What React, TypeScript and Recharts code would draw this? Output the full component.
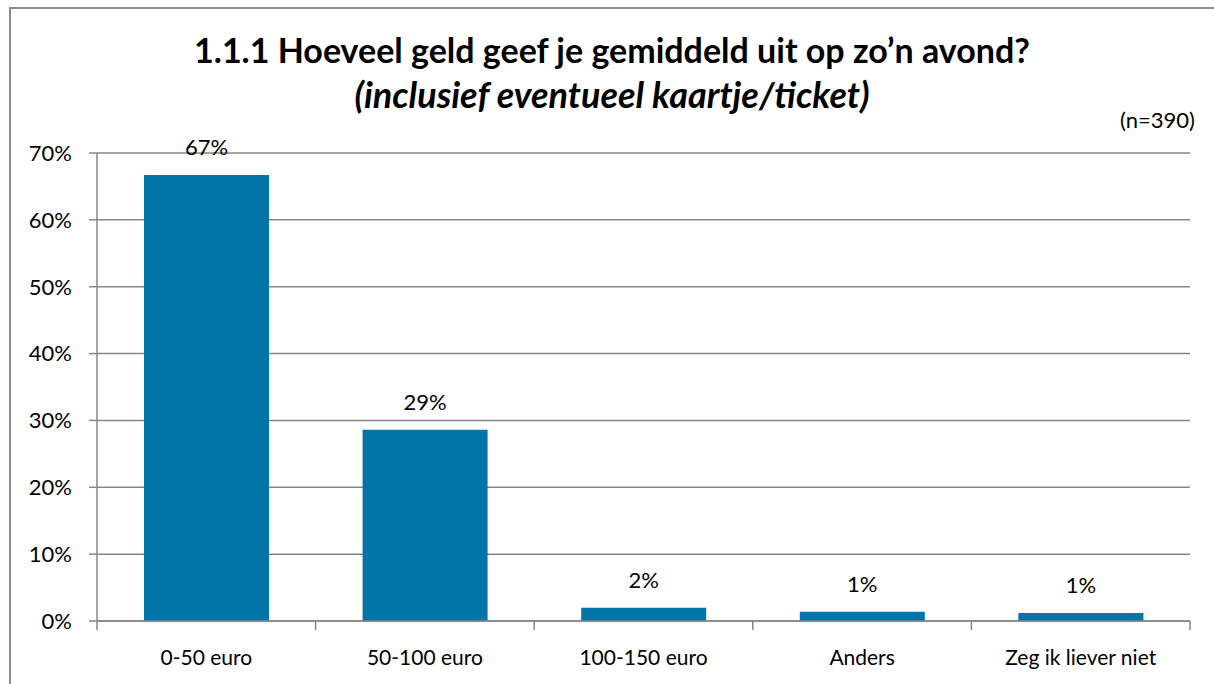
import React from 'react';
import { BarChart, Bar, XAxis, YAxis, CartesianGrid, LabelList } from 'recharts';

const categories = ['0-50 euro', '50-100 euro', '100-150 euro', 'Anders', 'Zeg ik liever niet'];
const percentages = [66.7, 28.6, 2.0, 1.4, 1.2];
const yTicks = [0, 10, 20, 30, 40, 50, 60, 70];

const chartTitle = '1.1.1 Hoeveel geld geef je gemiddeld uit op zo’n avond?';
const chartSubtitle = '(inclusief eventueel kaartje/ticket)';
const sampleNote = '(n=390)';

const FONT = 'Lato, "Open Sans", sans-serif';
const GRID = '#868686';
const BAR = '#0174AA';

const data = categories.map((name, i) => ({ name, value: percentages[i] }));

// category ticks sit on the band edges, like in Excel
const CategoryTick = (props: any) => {
    const { x, y, payload, index, visibleTicksCount, width } = props;
    const half = payload.offset ?? width / visibleTicksCount / 2;
    const top = y - 29;
    return (
        <g>
            <line x1={x - half} x2={x - half} y1={top} y2={top + 9} stroke={GRID} strokeWidth={1.5} />
            {index === visibleTicksCount - 1 && (
                <line x1={x + half} x2={x + half} y1={top} y2={top + 9} stroke={GRID} strokeWidth={1.5} />
            )}
            <text x={x} y={y} dy="0.71em" textAnchor="middle" fontSize={21} fontFamily={FONT} fill="#000">
                {payload.value}
            </text>
        </g>
    );
};

const App: React.FC = () => {
    return (
        <div style={{ position: 'absolute', left: 0, top: 0, width: 1214, height: 684, overflow: 'hidden', background: '#fff', fontFamily: FONT }}>
            <div style={{ position: 'absolute', left: 9, top: 7, width: 1400, height: 900, border: '2px solid #8c8c8c' }} />
            <div style={{ position: 'absolute', left: 0, width: 1224, top: 30, textAlign: 'center', fontSize: 34, fontWeight: 700, color: '#000', lineHeight: '40px' }}>
                {chartTitle}
            </div>
            <div style={{ position: 'absolute', left: 0, width: 1224, top: 74, textAlign: 'center', fontSize: 36, fontWeight: 700, fontStyle: 'italic', color: '#000', lineHeight: '40px' }}>
                {chartSubtitle}
            </div>
            <div style={{ position: 'absolute', right: 19, top: 107, fontSize: 22, color: '#000', lineHeight: '26px' }}>
                {sampleNote}
            </div>
            <div style={{ position: 'absolute', left: 0, top: 0 }}>
                <BarChart width={1214} height={684} data={data} margin={{ top: 153, right: 24, bottom: 0, left: 0 }} barSize={125}>
                    <CartesianGrid vertical={false} stroke={GRID} strokeWidth={1.5} />
                    <XAxis
                        dataKey="name"
                        height={63}
                        axisLine={{ stroke: GRID, strokeWidth: 1.5 }}
                        tickLine={false}
                        tickSize={9}
                        tickMargin={20}
                        interval={0}
                        tick={<CategoryTick />}
                    />
                    <YAxis
                        width={97}
                        domain={[0, 70]}
                        ticks={yTicks}
                        interval={0}
                        tickFormatter={(v: number) => `${v}%`}
                        axisLine={{ stroke: GRID, strokeWidth: 1.5 }}
                        tickLine={{ stroke: GRID, strokeWidth: 1.5 }}
                        tickSize={8}
                        tickMargin={17}
                        tick={{ fontSize: 22, fontFamily: FONT, fill: '#000' }}
                    />
                    <Bar dataKey="value" fill={BAR} isAnimationActive={false}>
                        <LabelList
                            dataKey="value"
                            position="top"
                            offset={20}
                            formatter={(v: any) => `${Math.round(Number(v))}%`}
                            style={{ fontSize: 22, fontFamily: FONT, fill: '#000' }}
                        />
                    </Bar>
                </BarChart>
            </div>
        </div>
    );
};

export default App;
